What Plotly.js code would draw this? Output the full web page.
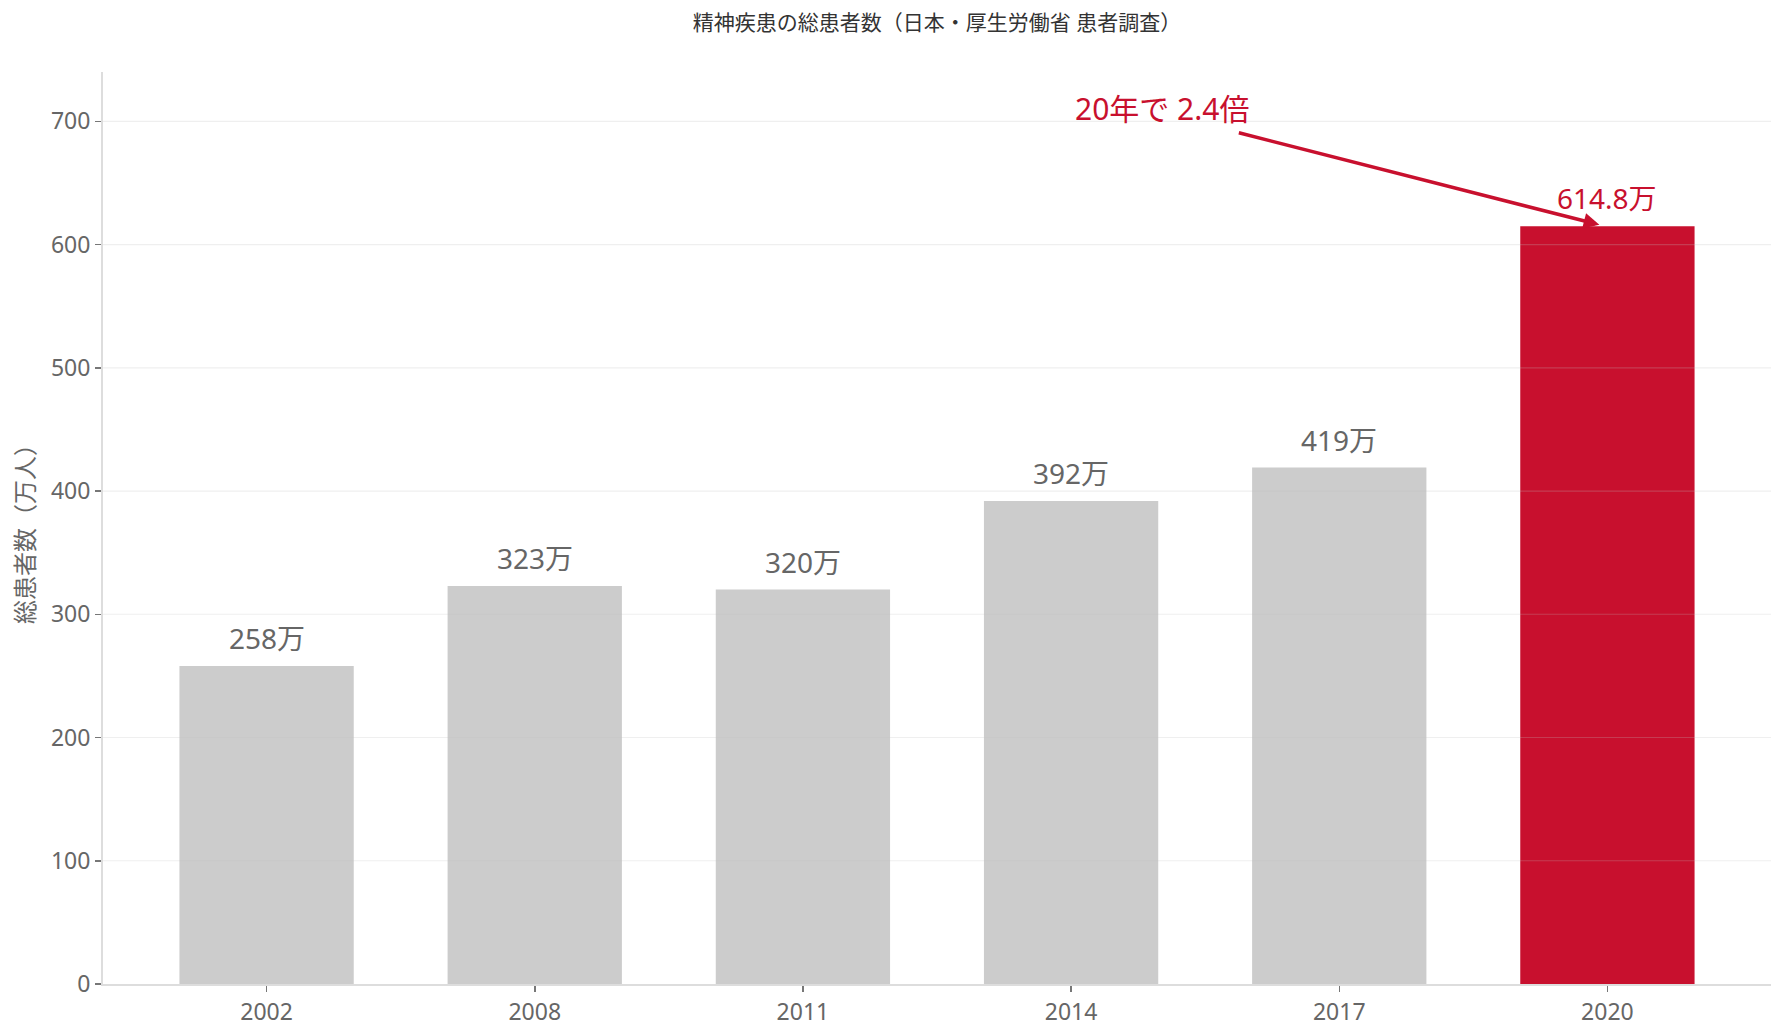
<!DOCTYPE html>
<html>
<head>
<meta charset="utf-8">
<script src="https://cdn.plot.ly/plotly-3.0.1.min.js"></script>
<style>html,body{margin:0;padding:0;background:#fff;}#chart{width:1785px;height:1035px;}</style>
</head>
<body>
<div id="chart"></div>
<script>
const years = ['2002', '2008', '2011', '2014', '2017', '2020'];
const patients = [258, 323, 320, 392, 419, 614.8];
const valueLabels = ['258万', '323万', '320万', '392万', '419万', '614.8万'];
const barColors = ['#cccccc', '#cccccc', '#cccccc', '#cccccc', '#cccccc', '#c8102e'];
const labelColors = ['#666666', '#666666', '#666666', '#666666', '#666666', '#c8102e'];
const yTicks = [0, 100, 200, 300, 400, 500, 600, 700];
const titleText = '精神疾患の総患者数（日本・厚生労働省 患者調査）';
const yTitleText = '総患者数（万人）';
const calloutText = '20年で 2.4倍';

const FONT = '"Noto Sans", "Noto Sans CJK JP", sans-serif';

const trace = {
  type: 'bar',
  x: years,
  y: patients,
  width: 0.65,
  marker: { color: barColors, line: { width: 0 } },
  hoverinfo: 'x+y'
};

const annotations = years.map((yr, i) => ({
  x: i, y: patients[i], xref: 'x', yref: 'y',
  text: valueLabels[i], showarrow: false,
  xanchor: 'center', yanchor: 'bottom', yshift: 7,
  font: { family: FONT, size: 28, color: labelColors[i] }
}));

annotations.push({
  x: 3.34, y: 710, xref: 'x', yref: 'y',
  text: calloutText, showarrow: false,
  xanchor: 'center', yanchor: 'middle',
  font: { family: FONT, size: 30, color: '#c8102e' }
});
annotations.push({
  x: 4.97, y: 616, xref: 'x', yref: 'y',
  ax: 3.62, ay: 691, axref: 'x', ayref: 'y',
  text: '', showarrow: true,
  arrowhead: 2, arrowsize: 0.9, arrowwidth: 3.5, arrowcolor: '#c8102e'
});

const shapes = yTicks.filter(v => v > 0).map(v => ({
  type: 'line', xref: 'paper', yref: 'y', x0: 0, x1: 1, y0: v, y1: v,
  layer: 'above', line: { color: 'rgba(190,190,190,0.25)', width: 1.2 }
}));

const layout = {
  width: 1785, height: 1035,
  margin: { l: 103, r: 14, t: 72, b: 51 },
  paper_bgcolor: '#ffffff', plot_bgcolor: '#ffffff',
  font: { family: FONT, color: '#666666' },
  showlegend: false,
  title: {
    text: titleText, x: 0.5, xref: 'paper', xanchor: 'center',
    y: 1 - 23 / 1035, yref: 'container', yanchor: 'middle',
    font: { family: FONT, size: 21, color: '#333333' }
  },
  xaxis: {
    type: 'category', range: [-0.61, 5.61],
    showgrid: false, zeroline: false,
    showline: true, linecolor: '#dddddd', linewidth: 2,
    ticks: 'outside', ticklen: 6, tickwidth: 1.5, tickcolor: '#777777',
    tickfont: { family: FONT, size: 23, color: '#666666' }
  },
  yaxis: {
    range: [0, 740], tickvals: yTicks, ticktext: yTicks.map(String),
    showgrid: false, zeroline: false,
    showline: true, linecolor: '#dddddd', linewidth: 2,
    ticks: 'outside', ticklen: 6, tickwidth: 1.5, tickcolor: '#777777',
    tickfont: { family: FONT, size: 23, color: '#666666' },
    title: { text: yTitleText, standoff: 10, font: { family: FONT, size: 24, color: '#666666' } }
  },
  annotations: annotations,
  shapes: shapes
};

Plotly.newPlot('chart', [trace], layout, { displayModeBar: false, staticPlot: true });
</script>
</body>
</html>
